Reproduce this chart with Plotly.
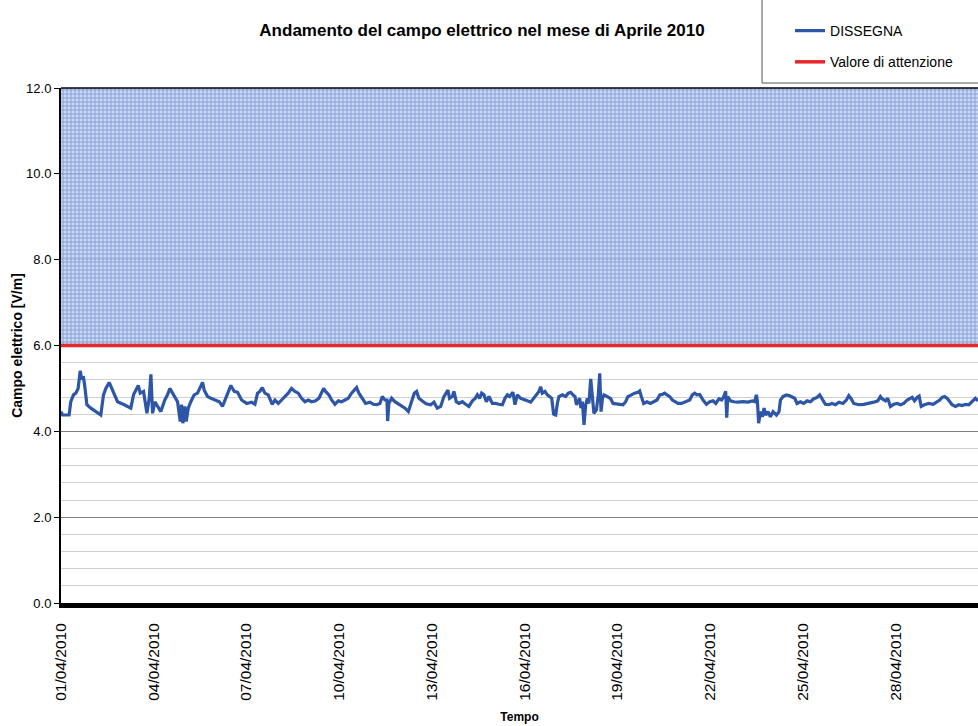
import pandas as pd
import plotly.graph_objects as go

# ---- data -----------------------------------------------------------------
START = "2010-04-01 00:00"
END = "2010-04-30 16:00"
ATTENTION_VALUE = 6.0
Y_MAX = 12.0

HOURS = [
    0, 1.2, 6.3, 7.6, 9.7, 11.5, 13.3, 14.9, 15.9, 17.5, 18.5, 20.1, 23.2, 27.0, 30.9,
    33.0, 34.8, 37.4, 40.0, 43.9, 49.1, 54.2, 56.3, 58.1, 60.0, 61.5, 64.1, 66.7, 68.5,
    69.8, 71.1, 72.9, 74.4, 77.5, 80.6, 82.7, 84.5, 87.4, 90.5, 92.6, 93.6, 94.6, 96.2,
    97.2, 98.8, 100.8, 103.4, 106.0, 108.6, 109.9, 111.2, 113.8, 116.4, 119.0, 122.9,
    125.4, 128.0, 130.6, 131.9, 134.5, 137.1, 140.2,
    144.1, 148.0, 150.6, 152.6, 154.4, 156.3, 158.3, 160.9, 164.0, 166.1, 168.7, 171.3,
    173.9, 176.4, 179.0, 181.6, 184.2, 186.8, 189.4, 192.0, 194.6, 197.7, 200.3, 202.3,
    203.9, 205.4, 208.0, 210.1, 212.7, 215.3, 217.9, 220.5, 223.0, 225.6, 228.2, 229.5,
    231.3, 233.9, 236.5, 239.9, 242.5, 245.1, 247.6, 249.5, 251.5, 253.1, 253.6, 254.6,
    256.7, 259.3, 263.2, 267.1, 269.7, 272.2, 274.3, 276.1, 277.9, 281.3,
    283.5, 287.0, 289.6, 292.2, 294.8, 297.3, 299.2, 300.4, 301.7, 303.8, 305.1, 306.9,
    309.0, 311.6, 314.2, 316.7, 319.4, 321.4, 323.3, 325.0, 326.6, 328.4, 330.3, 332.3,
    334.9, 337.5, 340.0, 342.7, 344.7, 346.6, 348.4, 349.9, 350.9, 352.5, 354.3, 356.9,
    359.5, 362.1, 364.7, 367.2, 369.1, 371.1, 372.4, 373.7, 375.8, 377.6, 379.4, 381.0,
    382.5, 384.1, 385.4, 386.6, 389.3, 391.8, 393.9, 395.7, 397.5, 399.1, 400.2, 401.7,
    402.7, 403.7, 404.8, 406.1, 407.4, 408.7, 409.9, 411.3, 412.6, 413.8, 415.7, 417.2,
    418.3, 419.3, 420.4, 421.6, 424.2, 426.8,
    428.6, 432.5, 436.4, 438.4, 440.2, 442.9, 445.4, 448.0, 449.3, 450.6, 452.4, 455.0,
    457.6, 460.2, 462.8, 464.9, 466.9, 468.7, 470.5, 472.6, 474.7, 476.5, 479.1, 481.7,
    484.3, 486.1, 488.2, 490.2, 492.0, 493.8, 495.9, 498.5, 501.1, 503.7, 506.3, 508.4,
    510.9, 513.0, 514.6, 516.1, 516.9, 517.7, 519.8, 522.3, 525.7, 529.6, 533.4, 536.8,
    538.6, 539.9, 540.7, 541.7, 543.1, 544.6, 545.9, 547.2, 549.0, 550.8, 552.9, 555.5,
    557.5, 558.6, 560.6, 563.2, 565.8, 569.7,
    571.5, 574.1, 576.7, 579.3, 581.9, 584.5, 587.1, 589.1, 590.9, 593.5, 596.1, 598.7,
    601.3, 603.9, 607.2, 609.8, 611.7, 613.5, 615.5, 619.4, 623.3, 627.2, 631.1, 634.2,
    636.2, 637.5, 640.2, 641.9, 644.0, 646.6, 649.2, 651.8, 654.4, 657.0, 659.0, 660.9,
    662.7, 664.7, 666.3, 667.9, 670.4, 673.8, 677.1, 679.7, 682.3, 684.1, 686.0, 688.0,
    690.1, 691.9, 694.5, 697.1, 699.7, 702.3, 704.9, 707.4, 710.0, 711.8,
]

VALUES = [
    4.46, 4.38, 4.38, 4.69, 4.85, 4.89, 5.00, 5.41, 5.24, 5.25, 5.04, 4.62, 4.54, 4.46, 4.38,
    4.85, 5.00, 5.14, 4.96, 4.69, 4.62, 4.54, 4.85, 4.96, 5.07, 4.89, 4.93, 4.42, 4.77,
    5.33, 4.42, 4.69, 4.62, 4.46, 4.73, 4.85, 5.00, 4.85, 4.69, 4.23, 4.62, 4.19, 4.58,
    4.23, 4.54, 4.69, 4.85, 4.89, 5.04, 5.14, 4.96, 4.81, 4.77, 4.73, 4.69,
    4.58, 4.77, 4.96, 5.07, 4.93, 4.91, 4.73,
    4.65, 4.68, 4.63, 4.89, 4.93, 5.02, 4.89, 4.85, 4.63, 4.73, 4.65, 4.73,
    4.81, 4.89, 5.00, 4.93, 4.89, 4.77, 4.69, 4.73, 4.69, 4.71, 4.77, 4.89,
    5.00, 4.93, 4.85, 4.73, 4.63, 4.71, 4.69, 4.73, 4.77, 4.89, 4.96, 5.02,
    4.89, 4.77, 4.65, 4.68, 4.63, 4.62, 4.65, 4.81, 4.73, 4.73, 4.24, 4.65,
    4.77, 4.69, 4.62, 4.54, 4.46, 4.69, 4.89, 4.93, 4.77, 4.69,
    4.64, 4.62, 4.68, 4.54, 4.58, 4.81, 4.89, 4.96, 4.77, 4.81, 4.93, 4.69,
    4.65, 4.69, 4.63, 4.58, 4.71, 4.76, 4.85, 4.77, 4.89, 4.85, 4.69, 4.81,
    4.65, 4.65, 4.63, 4.62, 4.77, 4.85, 4.81, 4.89, 4.91, 4.62, 4.85, 4.77,
    4.73, 4.71, 4.68, 4.77, 4.86, 4.93, 5.04, 4.89, 4.93, 4.85, 4.81, 4.77,
    4.40, 4.38, 4.65, 4.81, 4.85, 4.81, 4.89, 4.91, 4.85, 4.81, 4.62, 4.71,
    4.77, 4.54, 4.69, 4.15, 4.62, 4.77, 4.65, 5.22, 4.77, 4.42, 4.50, 4.85,
    5.35, 4.46, 4.77, 4.85, 4.81, 4.76,
    4.65, 4.63, 4.62, 4.69, 4.81, 4.85, 4.89, 4.91, 4.94, 4.81, 4.65, 4.69,
    4.65, 4.69, 4.73, 4.85, 4.86, 4.89, 4.85, 4.81, 4.73, 4.69, 4.65, 4.65,
    4.69, 4.71, 4.73, 4.85, 4.89, 4.85, 4.86, 4.73, 4.63, 4.69, 4.71, 4.65,
    4.76, 4.73, 4.81, 4.93, 4.32, 4.81, 4.71, 4.69, 4.68, 4.69, 4.68, 4.71,
    4.69, 4.85, 4.71, 4.19, 4.46, 4.34, 4.54, 4.38, 4.46, 4.34, 4.46, 4.38,
    4.46, 4.73, 4.81, 4.85, 4.83, 4.77,
    4.65, 4.69, 4.65, 4.71, 4.69, 4.76, 4.79, 4.85, 4.77, 4.63, 4.62, 4.65,
    4.62, 4.68, 4.65, 4.73, 4.83, 4.76, 4.65, 4.62, 4.63, 4.65, 4.68, 4.71,
    4.81, 4.76, 4.71, 4.77, 4.58, 4.63, 4.65, 4.62, 4.65, 4.73, 4.77, 4.79,
    4.71, 4.79, 4.82, 4.58, 4.62, 4.65, 4.63, 4.68, 4.73, 4.79, 4.81, 4.77,
    4.69, 4.62, 4.58, 4.62, 4.60, 4.63, 4.62, 4.69, 4.77, 4.71,
]

TICK_DAYS_STEP = 3
SERIES_NAME = "DISSEGNA"
THRESHOLD_NAME = "Valore di attenzione"

# ---- build ----------------------------------------------------------------
t0 = pd.Timestamp(START)
t_end = pd.Timestamp(END)
times = [t0 + pd.Timedelta(hours=h) for h in HOURS]

FONT = "Liberation Sans, Arial, sans-serif"

fig = go.Figure()

# patterned zone above the attention value
fig.add_trace(go.Scatter(
    x=[t0, t_end, t_end, t0],
    y=[ATTENTION_VALUE, ATTENTION_VALUE, Y_MAX, Y_MAX],
    fill="toself",
    mode="lines",
    line=dict(width=0),
    fillpattern=dict(shape="+", size=4, solidity=0.45,
                     fgcolor="#3f69c0", bgcolor="rgba(192,208,240,0.8)"),
    showlegend=False,
    hoverinfo="skip",
))

fig.add_trace(go.Scatter(
    x=times, y=VALUES, mode="lines", name=SERIES_NAME,
    line=dict(color="#2E56A6", width=3.2),
    legendgroup="a",
))

fig.add_trace(go.Scatter(
    x=[t0, t_end], y=[ATTENTION_VALUE, ATTENTION_VALUE], mode="lines",
    name=THRESHOLD_NAME, line=dict(color="#E8262B", width=3.5),
    legendgroup="b",
))

fig.update_layout(
    width=978, height=726,
    margin=dict(l=61, r=0, t=88, b=123, autoexpand=False),
    paper_bgcolor="white", plot_bgcolor="white",
    font=dict(family=FONT, size=12, color="black"),
    title=dict(text="<b>Andamento del campo elettrico nel mese di Aprile 2010</b>",
               x=482 / 978, xref="container", xanchor="center",
               y=1 - 30 / 726, yref="container", yanchor="middle",
               font=dict(size=17, family=FONT, color="black")),
    showlegend=True,
    legend=dict(x=0.795, xanchor="left", y=1.1417, yanchor="top",
                bgcolor="rgba(0,0,0,0)", borderwidth=0,
                font=dict(size=14, family=FONT, color="black"),
                traceorder="grouped", tracegroupgap=10),
    shapes=[
        dict(type="rect", xref="paper", yref="paper",
             x0=0.7645, x1=1.05, y0=1.0097, y1=1.25,
             line=dict(color="#555555", width=1), fillcolor="white", layer="below"),
        dict(type="line", xref="paper", yref="paper",
             x0=0, x1=1, y0=1, y1=1, line=dict(color="black", width=1.5)),
    ],
)

fig.update_xaxes(
    type="date", range=[t0, t_end], automargin=False,
    tick0=t0, dtick=TICK_DAYS_STEP * 86400000, tickformat="%d/%m/%Y",
    tickangle=-90, ticks="", showgrid=False, ticklabelstandoff=9,
    showline=True, linecolor="black", linewidth=5,
    tickfont=dict(size=15.5, family=FONT, color="black"),
    title=dict(text="<b>Tempo</b>", standoff=14,
               font=dict(size=12, family=FONT, color="black")),
    zeroline=False,
)

fig.update_yaxes(
    range=[0, Y_MAX], dtick=2, tickformat=".1f", automargin=False,
    showgrid=True, gridcolor="#808080", gridwidth=1,
    minor=dict(dtick=0.4, showgrid=True, gridcolor="#cfcfcf", gridwidth=1),
    showline=True, linecolor="black", linewidth=2,
    ticks="outside", ticklen=5, tickcolor="black",
    tickfont=dict(size=13, family=FONT, color="black"),
    title=dict(text="<b>Campo elettrico [V/m]</b>", standoff=0,
               font=dict(size=14, family=FONT, color="black")),
    zeroline=False,
)

fig.write_html("out.html",
               config={"displayModeBar": False},
               post_script="document.body.style.margin='0';"
                           "document.documentElement.style.overflow='hidden';")
